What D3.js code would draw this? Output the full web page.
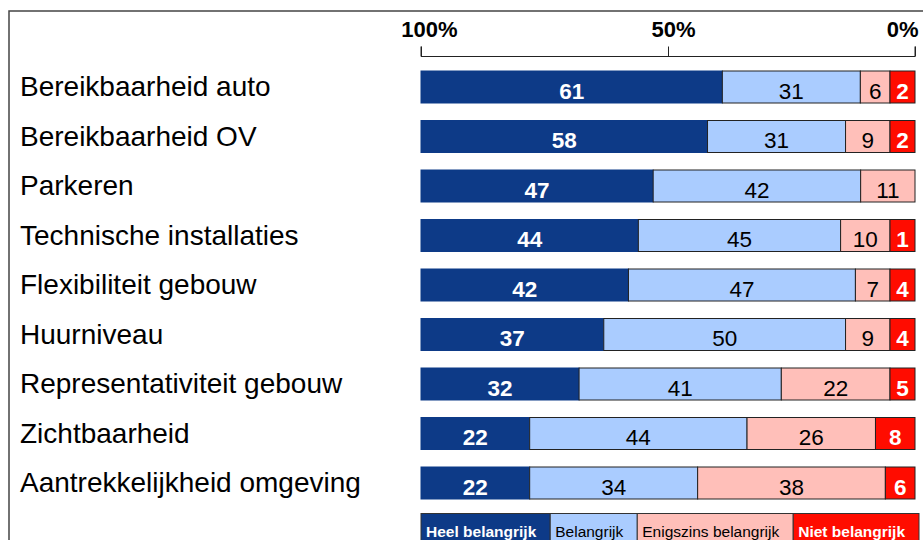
<!DOCTYPE html>
<html>
<head>
<meta charset="utf-8">
<script src="https://cdn.jsdelivr.net/npm/d3@7"></script>
<style>
  body { margin: 0; background: #fff; }
  svg { display: block; font-family: "Liberation Sans", Arial, sans-serif; }
</style>
</head>
<body>
<div id="vis"></div>
<script>
// stacked importance bars, 100% on the left down to 0% on the right

const categories = [
  'Bereikbaarheid auto',
  'Bereikbaarheid OV',
  'Parkeren',
  'Technische installaties',
  'Flexibiliteit gebouw',
  'Huurniveau',
  'Representativiteit gebouw',
  'Zichtbaarheid',
  'Aantrekkelijkheid omgeving'
]
const heelBelangrijk = [61, 58, 47, 44, 42, 37, 32, 22, 22]
const belangrijk     = [31, 31, 42, 45, 47, 50, 41, 44, 34]
const enigszins      = [6, 9, 11, 10, 7, 9, 22, 26, 38]
const nietBelangrijk = [2, 2, 0, 1, 4, 4, 5, 8, 6]
const seriesNames = ['Heel belangrijk', 'Belangrijk', 'Enigszins belangrijk', 'Niet belangrijk']
const tickValues = [100, 50, 0]
const tickLabels = ['100%', '50%', '0%']

;(function() {
  const svg_width = 923,
        svg_height = 540,
        svg = d3.select('#vis').append('svg')
          .attr('width', svg_width)
          .attr('height', svg_height)

  const colors = ['#0d3a87', '#aaccff', '#ffbfb9', '#ff0c00']
  const textColors = ['#fff', '#000', '#000', '#fff']
  const weights = ['bold', 'normal', 'normal', 'bold']
  const series = [heelBelangrijk, belangrijk, enigszins, nietBelangrijk]

  const x0 = 421, x1 = 915
  const xAxisScale = d3.scaleLinear().domain([100, 0]).range([x0, x1])
  const xw = d3.scaleLinear().domain([0, 100]).range([0, x1 - x0])

  const y = d3.scaleBand()
    .domain(categories)
    .range([71, 499])
    .paddingInner(17.5 / 49.5)
    .paddingOuter(0)

  // frame
  svg.append('path')
    .attr('d', `M9,${svg_height} L9,11 L${svg_width},11`)
    .attr('fill', 'none')
    .attr('stroke', '#444')
    .attr('stroke-width', 1.5)

  // axis on top
  const axis = svg.append('g')
    .attr('transform', 'translate(0,56.5)')
    .call(d3.axisTop(xAxisScale)
      .tickValues(tickValues)
      .tickSize(10)
      .tickPadding(10)
      .tickFormat((d, i) => tickLabels[i]))
  axis.select('.domain').attr('d', `M${x0},-10V0H${x1}V-10`).attr('stroke', '#222')
  axis.selectAll('.tick line').attr('stroke', '#222')
  axis.selectAll('.tick text')
    .attr('font-size', 22)
    .attr('font-weight', 'bold')
    .attr('font-family', '"Liberation Sans", Arial, sans-serif')
    .attr('fill', '#000')
    .attr('y', -20)
    .attr('dx', (d) => d === 100 ? 8 : d === 50 ? 5 : 3)
    .attr('text-anchor', (d) => d === 0 ? 'end' : 'middle')

  // category labels
  svg.append('g').selectAll('text')
    .data(categories)
    .join('text')
    .attr('x', 20)
    .attr('y', (d) => y(d) + y.bandwidth() / 2 + 9)
    .attr('font-size', 28)
    .attr('fill', '#000')
    .text((d) => d)

  // segment widths, small labelled segments get a minimum width taken from "Belangrijk"
  const minW = 25
  const rows = categories.map((c, i) => {
    const w = series.map((s) => xw(s[i]))
    for (let k = 2; k < 4; k++) {
      if (series[k][i] > 0 && w[k] < minW) {
        w[1] -= (minW - w[k])
        w[k] = minW
      }
    }
    let acc = x0
    return series.map((s, k) => {
      const seg = { cat: c, k: k, value: s[i], x: acc, w: w[k] }
      acc += w[k]
      return seg
    }).filter((d) => d.value > 0)
  })
  const segs = rows.flat()

  const bars = svg.append('g')
  bars.selectAll('rect')
    .data(segs)
    .join('rect')
    .attr('x', (d) => d.x)
    .attr('y', (d) => y(d.cat))
    .attr('width', (d) => d.w)
    .attr('height', y.bandwidth())
    .attr('fill', (d) => colors[d.k])
    .attr('stroke', (d) => d.k === 0 ? colors[0] : '#222')
    .attr('stroke-width', 1)

  bars.selectAll('text')
    .data(segs)
    .join('text')
    .attr('x', (d) => d.x + d.w / 2)
    .attr('y', (d) => y(d.cat) + y.bandwidth() / 2 + 11.5)
    .attr('text-anchor', 'middle')
    .attr('font-size', 22.5)
    .attr('font-weight', (d) => weights[d.k])
    .attr('fill', (d) => textColors[d.k])
    .text((d) => d.value)

  // legend
  const legend = svg.append('g').attr('transform', 'translate(0,513.5)')
  const items = legend.selectAll('g')
    .data(seriesNames)
    .join('g')
  items.append('rect')
    .attr('height', 40)
    .attr('fill', (d, i) => colors[i])
    .attr('stroke', '#333')
    .attr('stroke-width', 1)
  items.append('text')
    .attr('y', 23)
    .attr('font-size', 15.5)
    .attr('font-weight', (d, i) => weights[i])
    .attr('fill', (d, i) => textColors[i])
    .text((d) => d)

  const lens = items.select('text').nodes().map((n) => n.getComputedTextLength())
  const legendWidth = 919 - x0
  const pad = (legendWidth - d3.sum(lens)) / lens.length
  let lx = x0
  items.each(function(d, i) {
    const g = d3.select(this)
    g.attr('transform', `translate(${lx},0)`)
    g.select('rect').attr('width', lens[i] + pad)
    g.select('text').attr('x', 5)
    lx += lens[i] + pad
  })
}())
</script>
</body>
</html>
